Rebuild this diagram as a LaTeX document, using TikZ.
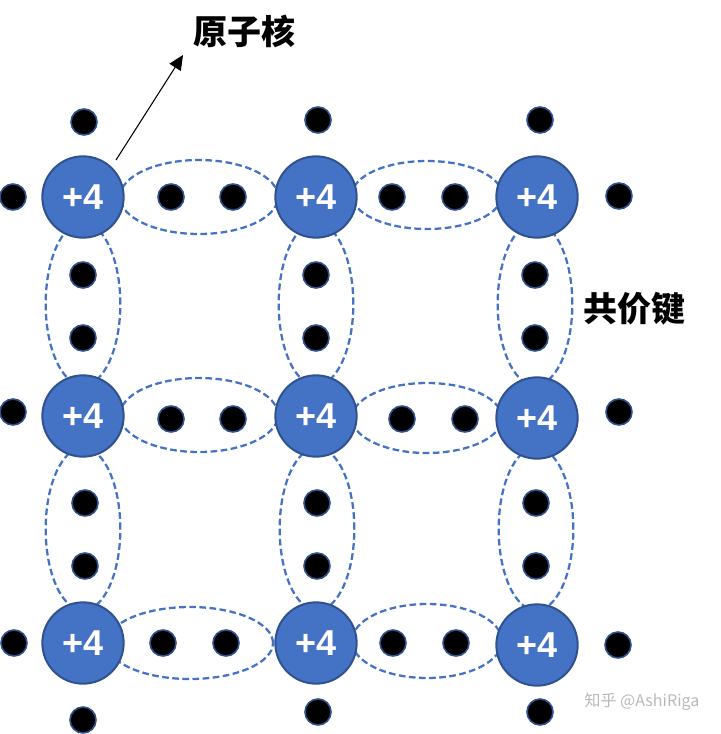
\documentclass[tikz,border=0pt]{standalone}
\usepackage{fontspec}
\setmainfont{Liberation Sans}
\newfontfamily\cjk{Noto Sans CJK SC}
\usetikzlibrary{arrows.meta,shapes.geometric}
\definecolor{atomblue}{HTML}{4472C4}
\definecolor{atomedge}{HTML}{2F528F}
\tikzset{
  atom/.style={circle,draw=atomedge,line width=1.5pt,fill=atomblue,minimum size=61pt,inner sep=0pt,text=white,font=\bfseries\fontsize{27}{27}\selectfont},
  electron/.style={circle,draw=atomedge,line width=1.2pt,fill=black,minimum size=19.5pt,inner sep=0pt},
  bond/.style={ellipse,draw=atomblue,line width=1.7pt,dash pattern=on 5pt off 2.6pt,inner sep=0pt},
  title/.style={font=\cjk\bfseries\fontsize{25.5}{26}\selectfont,text=black,inner sep=0pt}
}
\begin{document}
\begin{tikzpicture}[x=0.75pt,y=-0.75pt]
\useasboundingbox (0,0) rectangle (720,734);
% bonds: horizontal
\foreach \n/\x/\y/\w/\h in {h1/199/197/158/74, h2/427/195/150/68, h3/199/415/158/74, h4/427/418/150/70, h5/190/643/166/72, h6/427/641/150/74}
  \node[bond,minimum width=\w*0.75pt,minimum height=\h*0.75pt] (\n) at (\x,\y) {};
% bonds: vertical
\foreach \n/\x/\y in {v1/83/304, v2/316/304, v3/535/304, v4/83/529, v5/317/529, v6/536/529}
  \node[bond,minimum width=56pt,minimum height=122pt] (\n) at (\x,\y) {};
% atoms
\foreach \n/\x/\y in {a1/83/197, a2/316/197, a3/537/197, a4/83/416, a5/316/416, a6/537/418, a7/83/643, a8/316/643, a9/537/645}
  \node[atom] (\n) at (\x,\y) {+4};
% electrons
\foreach \x/\y [count=\i] in {84/122,318/120,540/120,13/197,13/412,14/643,619/196,619/412,618/645,83/720,318/712,540/712,
  171/197,233/197,392/197,455/197,171/419,233/419,402/419,465/419,163/643,226/643,393/643,456/643,
  83/275,83/338,316/275,316/338,535/275,535/338,85/503,85/566,317/503,317/566,536/503,536/566}
  \node[electron] (e\i) at (\x,\y) {};
% labels
\node[title] (nucleus) at (244,31) {原子核};
\node[title] (bondlabel) at (634,309) {共价键};
\coordinate (arrowstart) at (116,160);
\coordinate (arrowend) at (183,55);
\draw[line width=0.8pt,-{Triangle[length=11pt,width=10pt]}] (arrowstart) -- (arrowend);
% watermark
\node[inner sep=0pt,text=gray!55,font=\cjk\fontsize{12}{12}\selectfont] (wm) at (642,702) {知乎 @AshiRiga};
\end{tikzpicture}
\end{document}
